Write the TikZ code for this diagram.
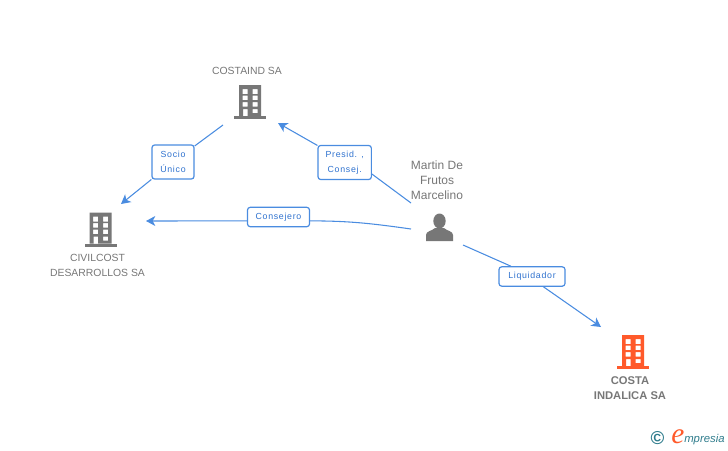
\documentclass[tikz,border=0pt]{standalone}
\usepackage{fontspec}
\setmainfont{Liberation Sans}
\newfontfamily\tagfont[LetterSpace=8]{Liberation Sans}
\newfontfamily\logofont{Liberation Serif}
\usetikzlibrary{arrows.meta, positioning}
\definecolor{linkblue}{HTML}{4A8CE0}
\definecolor{tagblue}{HTML}{2F72CF}
\definecolor{namegray}{HTML}{777777}
\definecolor{iconorange}{HTML}{FF5A2B}
\definecolor{logoteal}{HTML}{2F7C8C}
\tikzset{
    company/.style={font=\fontsize{7.8}{11.2}\selectfont,text=namegray,align=center,inner sep=0pt},
    person/.style={company,font=\fontsize{9}{11.2}\selectfont},
    iconbox/.style={minimum width=32\pgflinewidth,inner sep=0pt},
    tagbox/.style={rectangle,draw=linkblue,fill=white,rounded corners=2pt,line width=0.9pt,inner sep=0pt,
        font=\tagfont\fontsize{6.6}{11.2}\selectfont,text=tagblue,align=center},
    link/.style={draw=linkblue,line width=0.8pt},
    linkarrow/.style={link,-{Stealth[length=7pt,width=7.5pt,inset=2pt]}},
    pics/building/.style={code={
        \fill[#1,even odd rule] (-11,-17) rectangle (11,14)
            (-7.5,-13) rectangle (-2.5,-8) (2.5,-13) rectangle (7.5,-8)
            (-7.5,-6.5) rectangle (-2.5,-2) (2.5,-6.5) rectangle (7.5,-2)
            (-7.5,0) rectangle (-2.5,4.5) (2.5,0) rectangle (7.5,4.5)
            (-7,7) rectangle (-2.5,14) (2.5,7) rectangle (7.5,11);
        \fill[#1] (-16,14) rectangle (16,17);
    }},
}
\begin{document}
\begin{tikzpicture}[x=0.75pt,y=-0.75pt]
    \useasboundingbox (0,0) rectangle (728,450);

    % Societa
    \node[iconbox] (costaind) at (250,102) {};
    \pic at (costaind) {building=namegray};
    \node[company] (costaindname) at (247,71) {COSTAIND SA};

    \node[iconbox] (civilcost) at (100.5,229.5) {};
    \pic at (civilcost) {building=namegray};
    \node[company] (civilcostname) at (97.5,265.5) {CIVILCOST\\DESARROLLOS SA};

    \node[iconbox] (costa) at (633,352) {};
    \pic at (costa) {building=iconorange};
    \node[company,font=\fontsize{8.4}{11.2}\selectfont\bfseries] (costaname) at (630,388.5) {COSTA\\INDALICA SA};

    % Persona
    \node[iconbox] (martin) at (439.5,228) {};
    \fill[namegray] (426,241) -- (426,235) .. controls (426,231) and (432,231) .. (435,228)
        -- (444,228) .. controls (447,231) and (453,231) .. (453,235) -- (453,241) -- cycle;
    \fill[namegray] (martin.center)+(0,-7) ellipse (6.2 and 7.5);
    \node[person] (martinname) at (437,180) {Martin De\\Frutos\\Marcelino};

    % Etichette
    \node[tagbox,minimum width=31.5pt,minimum height=25.5pt] (socio) at (173,162) {Socio\\Único};
    \node[tagbox,minimum width=40pt,minimum height=25.5pt] (presid) at (344.7,162.5) {Presid. ,\\Consej.};
    \node[tagbox,minimum width=46.5pt,minimum height=14.5pt] (consejero) at (278.5,217) {Consejero};
    \node[tagbox,minimum width=49.5pt,minimum height=14.5pt] (liquidador) at (532,276.5) {Liquidador};

    % Estremi liberi
    \coordinate (costaindout) at (223,125);
    \coordinate (civilcostin) at (121,204);
    \coordinate (costaindin) at (278,123);
    \coordinate (martinup) at (411,203);
    \coordinate (martinleft) at (411,229);
    \coordinate (civilcostright) at (146,221);
    \coordinate (martinright) at (463,245);
    \coordinate (costain) at (601,327);

    % Connessioni
    \draw[link] (costaindout) -- (socio);
    \draw[linkarrow] (socio) -- (civilcostin);
    \draw[link] (martinup) -- (presid.-23);
    \draw[linkarrow] (presid.148) -- (costaindin);
    \draw[link] (martinleft) to[out=172,in=0] (consejero.-7);
    \draw[linkarrow] (consejero.187) -- (civilcostright);
    \draw[link] (martinright) -- (liquidador.154);
    \draw[linkarrow] (liquidador.-42) -- (costain);

    % Logo
    \node[font=\bfseries\fontsize{14}{14}\selectfont,text=logoteal,inner sep=0pt] (copyr) at (657.5,438.5) {©};
    \node[font=\logofont\itshape\fontsize{22}{22}\selectfont,text=iconorange,inner sep=0pt,anchor=base] (logoe) at (678,443) {e};
    \node[font=\itshape\fontsize{8.5}{12}\selectfont,text=logoteal,inner sep=0pt,anchor=base west] (logotext) at (684,442.5) {mpresia};
\end{tikzpicture}
\end{document}
